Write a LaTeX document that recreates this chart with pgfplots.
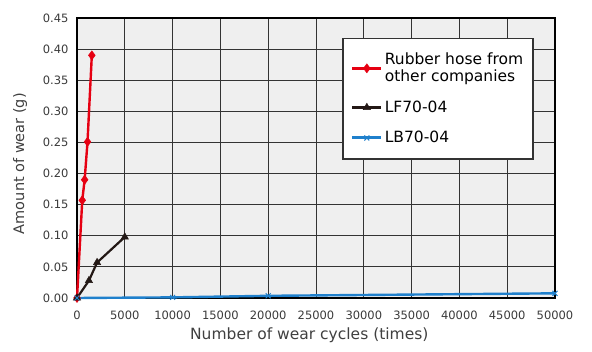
\documentclass[border=0pt]{standalone}
\usepackage{fontspec}
\setmainfont{DejaVu Sans}
\usepackage{pgfplots}
\pgfplotsset{compat=1.18}
\definecolor{cred}{HTML}{E60012}
\definecolor{cblk}{HTML}{231815}
\definecolor{cblu}{HTML}{1F80CC}
\definecolor{bg}{HTML}{EFEFEF}
\definecolor{tk}{HTML}{3A3A3A}
\begin{document}
\begin{tikzpicture}
\begin{axis}[
  scale only axis,
  width=478pt, height=280pt,
  xmin=0, xmax=50000, ymin=0, ymax=0.45,
  xtick={0,5000,...,50000},
  ytick={0,0.05,...,0.45},
  scaled x ticks=false,
  scaled y ticks=false,
  /pgf/number format/assume math mode=true,
  xticklabel style={yshift=-9pt, /pgf/number format/.cd,fixed,1000 sep={},precision=0},
  yticklabel style={xshift=-5pt, /pgf/number format/.cd,fixed,fixed zerofill,precision=2},
  tick label style={font=\fontsize{11.5}{13}\selectfont, text=tk},
  major tick length=0pt,
  grid=major,
  major grid style={draw=black!80, line width=0.8pt},
  axis line style={line width=2.2pt, black},
  axis background/.style={fill=bg},
  xlabel={Number of wear cycles (times)},
  ylabel={Amount of wear (g)},
  xlabel style={font=\fontsize{15.5}{17}\selectfont, text=black!75,
    at={(axis description cs:0.486,-0.132)}, anchor=center},
  ylabel style={font=\fontsize{14.5}{16}\selectfont, text=black!75,
    at={(axis description cs:-0.119,0.48)}, anchor=center},
  clip=false,
  legend style={at={(0.956,0.929)}, anchor=north east,
    draw=black!80, line width=1.6pt, fill=white,
    font=\fontsize{15.5}{17}\selectfont,
    cells={anchor=west, align=left},
    row sep=13.5pt, inner xsep=8pt, inner ysep=12.5pt},
  legend image code/.code={
    \draw[#1, line width=3pt] (0pt,0pt) -- (29pt,0pt);
    \draw[#1, only marks] plot coordinates {(14.5pt,0pt)};
  },
]
\addplot[cred, line width=2.4pt, mark=diamond*, mark size=4.5pt, mark options={solid, line width=0.5pt}]
  coordinates {(0,0) (550,0.157) (800,0.19) (1100,0.251) (1550,0.39)};
\addlegendentry{Rubber hose from\\other companies}
\addplot[cblk, line width=2.2pt, mark=triangle*, mark size=4.2pt, mark options={solid, line width=0.5pt}]
  coordinates {(0,0) (1250,0.028) (2100,0.057) (5000,0.098)};
\addlegendentry{LF70-04}
\addplot[cblu, line width=2.4pt, mark=x, mark size=3.5pt, mark options={solid, line width=1pt}]
  coordinates {(0,0) (10000,0.001) (20000,0.0035) (50000,0.0075)};
\addlegendentry{LB70-04}
\end{axis}
\path (current axis.south west) ++(-77pt,-54pt) coordinate (bl);
\path (current axis.north east) ++(37pt,18pt) coordinate (tr);
\path (bl) rectangle (tr);
\end{tikzpicture}
\end{document}
